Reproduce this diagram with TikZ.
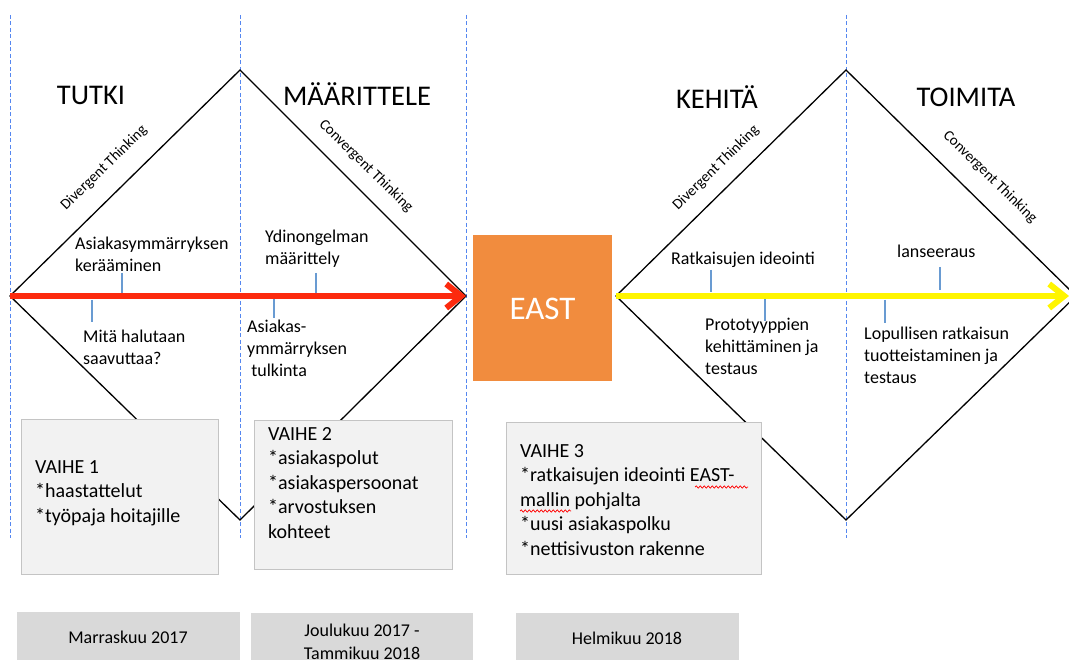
\documentclass[tikz,border=0pt]{standalone}
\usepackage{fontspec}
\setmainfont{Carlito}
\usetikzlibrary{arrows.meta,decorations.pathmorphing}

\definecolor{guideblue}{RGB}{85,135,240}
\definecolor{tickblue}{RGB}{105,155,210}
\definecolor{eastorange}{RGB}{241,140,62}
\definecolor{redarrow}{RGB}{252,42,14}
\definecolor{yellowarrow}{RGB}{255,245,0}
\definecolor{phasefill}{RGB}{242,242,242}
\definecolor{phaseline}{RGB}{196,196,196}
\definecolor{datefill}{RGB}{217,217,217}

\begin{document}
\begin{tikzpicture}[x=1pt,y=-1pt,
  guide/.style={guideblue,line width=0.8pt,dash pattern=on 4pt off 2.5pt},
  edge/.style={black,line width=1.3pt,line join=miter},
  flow/.style={line width=6pt,-{Straight Barb[length=15pt,width=24pt]}},
  callout/.style={tickblue,line width=1.2pt},
  heading/.style={font=\fontsize{28.5}{34}\selectfont,inner sep=0pt},
  thinking/.style={font=\fontsize{15}{18}\selectfont,inner sep=0pt},
  lbl/.style={font=\fontsize{18}{22}\selectfont,align=left,anchor=base west,inner sep=0pt},
  phasebox/.style={draw=phaseline,fill=phasefill,line width=1pt},
  phasetext/.style={font=\fontsize{20}{24.5}\selectfont,align=left,anchor=base west,inner sep=0pt},
  datebox/.style={fill=datefill,draw=none},
  datetext/.style={font=\fontsize{18}{23}\selectfont,align=center,inner sep=0pt},
  spell/.style={red,line width=0.7pt,decorate,decoration={snake,amplitude=1.1pt,segment length=4pt}}
]
\useasboundingbox (0,0) rectangle (1069,660);
\clip (0,0) rectangle (1069,660);

% vertical dashed phase guides
\foreach \gx/\gn in {10/ga,240/gb,466/gc,846/gd}{
  \coordinate (\gn-top) at (\gx,15);
  \coordinate (\gn-bot) at (\gx,538);
  \draw[guide] (\gn-top) -- (\gn-bot);
}

% double diamond outlines
\coordinate (d1-w) at (10,296);
\coordinate (d1-n) at (240,70);
\coordinate (d1-e) at (466,296);
\coordinate (d1-s) at (240,520);
\coordinate (d2-w) at (616,296);
\coordinate (d2-n) at (846,70);
\coordinate (d2-e) at (1076,296);
\coordinate (d2-s) at (846,520);
\draw[edge] (d1-w) -- (d1-n) -- (d1-e) -- (d1-s) -- cycle;
\draw[edge] (d2-w) -- (d2-n) -- (d2-e) -- (d2-s) -- cycle;

% phase headings
\node[heading] (h1) at (91,95) {TUTKI};
\node[heading] (h2) at (357,94) {MÄÄRITTELE};
\node[heading] (h3) at (717,97) {KEHITÄ};
\node[heading] (h4) at (966,97) {TOIMITA};

% thinking modes along the upper edges
\node[thinking,rotate=44.5] (t1) at (104,168) {Divergent Thinking};
\node[thinking,rotate=-44.5] (t2) at (366,166) {Convergent Thinking};
\node[thinking,rotate=44.5] (t3) at (716,168) {Divergent Thinking};
\node[thinking,rotate=-44.5] (t4) at (990,177) {Convergent Thinking};

% EAST block
\node[fill=eastorange,minimum width=139pt,minimum height=146pt,inner sep=0pt,
      text=white,font=\fontsize{33}{38}\selectfont] (east) at (542.5,308.5) {EAST};

% main flow arrows
\draw[flow,redarrow] (d1-w) -- (d1-e);
\coordinate (flow-end) at (1069,296);
\draw[flow,yellowarrow] (d2-w) -- (flow-end);

% activity labels (anchored at the baseline of the last line)
\node[lbl] (a1) at (75,272) {Asiakasymmärryksen\\kerääminen};
\node[lbl] (a2) at (83,365) {Mitä halutaan\\saavuttaa?};
\node[lbl] (a3) at (265,265) {Ydinongelman\\määrittely};
\node[lbl] (a4) at (247,377) {Asiakas-\\ymmärryksen\\\ tulkinta};
\node[lbl] (a5) at (671,265) {Ratkaisujen ideointi};
\node[lbl] (a6) at (705,375) {Prototyyppien\\kehittäminen ja\\testaus};
\node[lbl] (a7) at (897,258) {lanseeraus};
\node[lbl] (a8) at (864,384) {Lopullisen ratkaisun\\tuotteistaminen ja\\testaus};

% callout ticks to the flow line
\coordinate (c1a) at (122,273); \coordinate (c1b) at (122,293);
\coordinate (c2a) at (92,300);  \coordinate (c2b) at (92,322);
\coordinate (c3a) at (316,273); \coordinate (c3b) at (316,293);
\coordinate (c4a) at (274,299); \coordinate (c4b) at (274,318);
\coordinate (c5a) at (711,270); \coordinate (c5b) at (711,292);
\coordinate (c6a) at (765,299); \coordinate (c6b) at (765,321);
\coordinate (c7a) at (940,267); \coordinate (c7b) at (940,290);
\coordinate (c8a) at (885,300); \coordinate (c8b) at (885,323);
\foreach \c in {1,...,8}{\draw[callout] (c\c a) -- (c\c b);}

% phase content boxes
\draw[phasebox] (21,420) rectangle (218,574);
\draw[phasebox] (254,421) rectangle (452,569);
\draw[phasebox] (506,423) rectangle (761,574);
\node[phasetext] (p1) at (35,522) {VAIHE 1\\*haastattelut\\*työpaja hoitajille};
\node[phasetext] (p2) at (268,538) {VAIHE 2\\*asiakaspolut\\*asiakaspersoonat\\*arvostuksen\\kohteet};
\node[phasetext] (p3) at (520,555) {VAIHE 3\\*ratkaisujen ideointi EAST-\\mallin pohjalta\\*uusi asiakaspolku\\*nettisivuston rakenne};
\coordinate (sp1a) at (695,487); \coordinate (sp1b) at (748,487);
\coordinate (sp2a) at (520,511); \coordinate (sp2b) at (571,511);
\draw[spell] (sp1a) -- (sp1b);
\draw[spell] (sp2a) -- (sp2b);

% time periods
\draw[datebox] (17,612) rectangle (240,662);
\draw[datebox] (251,613) rectangle (473,662);
\draw[datebox] (516,613) rectangle (739,662);
\node[datetext] (m1) at (128,637) {Marraskuu 2017};
\node[datetext] (m2) at (362,642) {Joulukuu 2017 -\\Tammikuu 2018};
\node[datetext] (m3) at (627,638) {Helmikuu 2018};
\end{tikzpicture}
\end{document}
